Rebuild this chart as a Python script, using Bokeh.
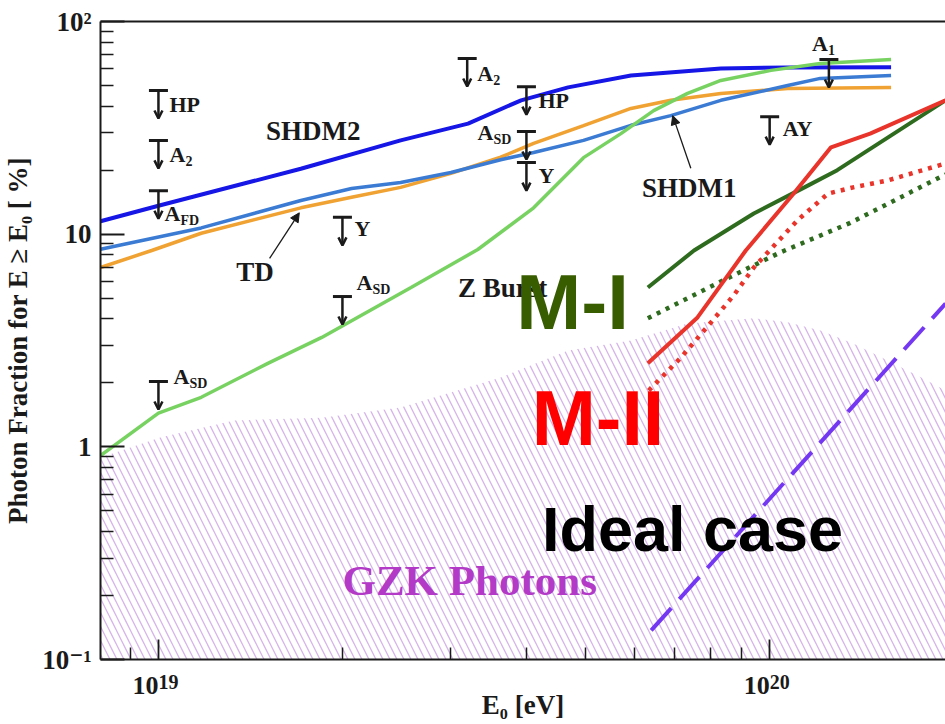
import numpy as np
from bokeh.plotting import figure
from bokeh.models import (Range1d, FixedTicker, CustomJSTickFormatter, LogAxis, LogScale,
                          ColumnDataSource, Arrow, OpenHead, NormalHead)
from bokeh.core.properties import value
from bokeh.embed import file_html
from bokeh.resources import INLINE

# ---------------- data (E0 in eV, photon fraction in %) ----------------
shdm2_E = [8.04e18, 1.0e19, 1.71e19, 2.49e19, 3.21e19, 3.92e19, 4.68e19, 5.93e19, 8.32e19, 1.07e20, 1.58e20]
shdm2_F = [11.5, 13.6, 20.3, 27.6, 33.1, 42.6, 49.0, 55.7, 60.1, 60.8, 61.0]

shdm1_E = [8.04e18, 1.175e19, 1.71e19, 2.07e19, 2.49e19, 3.01e19, 3.63e19, 4.11e19, 4.96e19,
           5.93e19, 6.89e19, 8.32e19, 1.07e20, 1.21e20, 1.58e20]
shdm1_F = [8.5, 10.7, 14.4, 16.4, 17.5, 19.5, 22.4, 24.2, 27.6, 32.5, 36.1, 42.6, 50.0, 54.0, 55.7]

td_E = [8.04e18, 9.75e18, 1.175e19, 1.71e19, 2.07e19, 2.49e19, 3.01e19, 3.63e19, 4.11e19,
        4.96e19, 5.93e19, 6.89e19, 8.32e19, 1.07e20, 1.58e20]
td_F = [6.97, 8.38, 10.1, 13.3, 14.9, 16.6, 19.3, 23.0, 26.7, 32.4, 39.0, 42.6, 45.9, 48.4, 49.0]

zb_E = [8.04e18, 1.0e19, 1.175e19, 1.51e19, 1.85e19, 2.59e19, 3.33e19, 4.11e19, 4.96e19,
        5.71e19, 6.46e19, 7.34e19, 8.32e19, 1.005e20, 1.21e20, 1.58e20]
zb_F = [0.91, 1.44, 1.71, 2.47, 3.27, 5.61, 8.47, 13.3, 22.9, 29.7, 38.1, 45.9, 52.8, 58.9, 63.5, 66.3]

m1_E = [6.32e19, 7.52e19, 9.42e19, 1.14e20, 1.29e20, 1.94e20]
m1_F = [5.61, 8.38, 12.5, 16.6, 20.0, 42.6]

m1d_E = [6.32e19, 8.32e19, 1.04e20, 1.355e20, 1.94e20]
m1d_F = [4.02, 5.99, 8.20, 11.3, 19.1]

m2_E = [6.32e19, 7.62e19, 9.14e19, 1.094e20, 1.26e20, 1.46e20, 1.94e20]
m2_F = [2.47, 4.06, 8.38, 15.5, 25.6, 29.7, 42.6]

m2d_E = [6.34e19, 7.16e19, 8.02e19, 8.73e19, 9.42e19, 1.11e20, 1.245e20, 1.37e20, 1.56e20, 1.94e20]
m2d_F = [1.84, 2.63, 3.85, 5.15, 6.97, 11.6, 15.5, 16.6, 17.9, 21.5]

ideal_E = [6.40e19, 1.0e20, 1.94e20]
ideal_F = [0.137, 0.57, 4.72]

gzk_E = [8.04e18, 1.01e19, 1.33e19, 1.85e19, 2.49e19, 3.63e19, 4.68e19, 5.93e19, 7.34e19,
         9.42e19, 1.07e20, 1.21e20, 1.37e20, 1.56e20, 1.77e20, 1.94e20]
gzk_F = [0.89, 1.11, 1.33, 1.37, 1.53, 2.12, 2.84, 3.16, 3.80, 4.02, 3.85, 3.52, 3.06, 2.55, 2.12, 1.84]

# upper limits
ul_E = [1e19, 1e19, 1e19, 1e19, 2e19, 2e19, 3.2e19, 4e19, 4e19, 4e19, 1e20, 1.25e20]
ul_F = [47.4, 27.6, 16.0, 2.03, 12.0, 5.09, 67.0, 49.4, 30.4, 21.7, 35.7, 66.3]
ul_main = ["HP", "A", "A", "A", "Y", "A", "A", "HP", "A", "Y", "AY", "A"]
ul_sub = ["", "2", "FD", "SD", "", "SD", "2", "", "SD", "", "", "1"]

x_major = [1e19, 1e20]
x_minor = [9e18, 2e19, 3e19, 4e19, 5e19, 6e19, 7e19, 8e19, 9e19, 2e20]
y_major = [0.1, 1, 10, 100]
y_minor = [0.2, 0.3, 0.4, 0.5, 0.6, 0.7, 0.8, 0.9, 2, 3, 4, 5, 6, 7, 8, 9,
           20, 30, 40, 50, 60, 70, 80, 90]

# ---------------- styles ----------------
SERIF = "Liberation Serif"
SERIF_STACK = "Liberation Serif, DejaVu Serif"
SANS = "Liberation Sans"
INK = "#1a1a1a"
ul_dx = [11, 11, 6, 15, 12, 14, 10, 12, -49, 12, 13, -17]
ul_dy = [14, 14, 23, -5, 11, -14, 15, 14, 1, 13, 12, -16]
ARROW_FACTOR = 10 ** (-28 / 212.67)
X0, X1 = 8.039e18, 1.9395e20
PX_PER_DECADE_X = 612.0


def shifted_range(px):
    """x range whose values land px pixels to the right of the main range."""
    f = 10 ** (-px / PX_PER_DECADE_X)
    return Range1d(X0 * f, X1 * f)


p = figure(width=945, height=724, x_axis_type="log", y_axis_type="log",
           x_range=Range1d(X0, X1), y_range=Range1d(0.1, 100),
           output_backend="svg", toolbar_location=None,
           min_border_left=99, min_border_right=0, min_border_top=21, min_border_bottom=65)
p.outline_line_color = None
p.grid.visible = False
p.background_fill_color = "white"
p.border_fill_color = "white"
p.extra_x_ranges = {"base": shifted_range(-13), "exp": shifted_range(10)}
p.extra_x_scales = {"base": LogScale(), "exp": LogScale()}

yfmt = CustomJSTickFormatter(code="""
const sup = {"-":"\u207b","1":"\u00b9","2":"\u00b2","3":"\u00b3"};
const e = Math.round(Math.log10(tick));
if (e == 0) return "1";
if (e == 1) return "10";
return "10" + String(e).split("").map(c => sup[c] ?? c).join("");
""")

for ax, maj, mnr, tin, mtin in [(p.xaxis[0], x_major, x_minor, 20, 12),
                                 (p.yaxis[0], y_major, y_minor, 24, 13)]:
    ax.ticker = FixedTicker(ticks=maj, minor_ticks=mnr)
    ax.major_tick_in = tin
    ax.major_tick_out = 0
    ax.minor_tick_in = mtin
    ax.minor_tick_out = 0
    ax.axis_line_width = 2
    ax.axis_line_color = INK
    ax.major_tick_line_color = INK
    ax.minor_tick_line_color = INK
    ax.major_tick_line_width = 1.8
    ax.minor_tick_line_width = 1.5

# main x axis: ticks only (labels drawn by the two label axes below)
p.xaxis[0].formatter = CustomJSTickFormatter(code="return '';")
p.xaxis[0].major_label_standoff = 0

ya = p.yaxis[0]
ya.formatter = yfmt
ya.major_label_text_font = SERIF_STACK
ya.major_label_text_font_style = "bold"
ya.major_label_text_font_size = "27px"
ya.major_label_text_color = INK
ya.major_label_standoff = 9
ya.axis_label = "Photon Fraction for E \u2265 E\u2080 [ %]"
ya.axis_label_text_font = SERIF
ya.axis_label_text_font_style = "bold"
ya.axis_label_text_font_size = "27px"
ya.axis_label_text_color = INK
ya.axis_label_standoff = 6

# exponent labels (raised, right of tick)
exp_axis = LogAxis(x_range_name="exp", ticker=FixedTicker(ticks=x_major),
                   formatter=CustomJSTickFormatter(code="return String(Math.round(Math.log10(tick)));"),
                   axis_line_color=None, major_tick_in=0, major_tick_out=0,
                   minor_tick_in=0, minor_tick_out=0, major_label_standoff=15,
                   major_label_text_font=SERIF, major_label_text_font_style="bold",
                   major_label_text_font_size="20px", major_label_text_color=INK)
p.add_layout(exp_axis, "below")

# base "10" labels (left of tick) + axis title
base_axis = LogAxis(x_range_name="base", ticker=FixedTicker(ticks=x_major),
                    formatter=CustomJSTickFormatter(code="return '10';"),
                    axis_line_color=None, major_tick_in=0, major_tick_out=0,
                    minor_tick_in=0, minor_tick_out=0, major_label_standoff=-15,
                    major_label_text_font=SERIF, major_label_text_font_style="bold",
                    major_label_text_font_size="26px", major_label_text_color=INK,
                    axis_label="E\u2080 [eV]", axis_label_standoff=-7,
                    axis_label_text_font=SERIF, axis_label_text_font_style="bold",
                    axis_label_text_font_size="27px", axis_label_text_color=INK)
p.add_layout(base_axis, "below")

top = LogAxis(ticker=FixedTicker(ticks=[]), axis_line_width=2, axis_line_color=INK,
              major_tick_in=0, major_tick_out=0, minor_tick_in=0, minor_tick_out=0,
              major_label_standoff=0)
p.add_layout(top, "above")

# GZK photon band (hatched)
p.varea(x=gzk_E, y1=0.1, y2=gzk_F, fill_alpha=0, hatch_pattern="\\",
        hatch_color="#d6b4ea", hatch_weight=1.3, hatch_scale=14)

# model curves
p.line(td_E, td_F, line_color="#f0a232", line_width=3.5)
p.line(shdm1_E, shdm1_F, line_color="#3b7bd4", line_width=3.5)
p.line(shdm2_E, shdm2_F, line_color="#1616e6", line_width=4)
p.line(zb_E, zb_F, line_color="#78d262", line_width=3.5)

p.line(m1_E, m1_F, line_color="#2e6b1f", line_width=4)
p.line(m1d_E, m1d_F, line_color="#2e6b1f", line_width=4.5, line_dash="4 6")
p.line(m2_E, m2_F, line_color="#e8342a", line_width=4)
p.line(m2d_E, m2d_F, line_color="#e8342a", line_width=4.5, line_dash="4 6")
p.line(ideal_E, ideal_F, line_color="#7538f2", line_width=4, line_dash="30 12")

# upper limits
ul_src = ColumnDataSource(dict(x=ul_E, y=ul_F, ye=list(np.array(ul_F) * ARROW_FACTOR),
                               t=ul_main, s=ul_sub, dx=ul_dx, dy=ul_dy,
                               sdx=list(np.array(ul_dx) + 16), sdy=list(np.array(ul_dy) + 7)))
p.scatter(x="x", y="y", marker="dash", size=19, line_width=3, line_color=INK, source=ul_src)
p.add_layout(Arrow(x_start="x", y_start="y", x_end="x", y_end="ye", source=ul_src,
                   line_width=2.5, line_color=INK,
                   end=OpenHead(size=8, line_width=2.5, line_color=INK)))
p.text(x="x", y="y", text="t", x_offset="dx", y_offset="dy", source=ul_src,
       text_font=value(SERIF), text_font_style="bold", text_font_size="22px",
       text_color=INK, text_baseline="middle", text_align="left")
p.text(x="x", y="y", text="s", x_offset="sdx", y_offset="sdy", source=ul_src,
       text_font=value(SERIF), text_font_style="bold", text_font_size="14px",
       text_color=INK, text_baseline="middle", text_align="left")

# pointer arrows
p.add_layout(Arrow(x_start=1.52e19, y_start=7.69, x_end=1.70e19, y_end=12.6,
                   line_width=1.3, line_color=INK,
                   end=NormalHead(size=9, fill_color=INK, line_color=INK)))
p.add_layout(Arrow(x_start=7.43e19, y_start=20.4, x_end=6.94e19, y_end=36.1,
                   line_width=1.3, line_color=INK,
                   end=NormalHead(size=9, fill_color=INK, line_color=INK)))

# curve labels
lab = ColumnDataSource(dict(
    x=[1.50e19, 6.18e19, 1.34e19, 3.09e19],
    y=[30.4, 16.4, 6.61, 5.61],
    t=["SHDM2", "SHDM1", "TD", "Z Burst"]))
p.text(x="x", y="y", text="t", source=lab, text_font=value(SERIF), text_font_style="bold",
       text_font_size="27px", text_color=INK, text_baseline="middle", text_align="left")

p.text(x=[2.0e19], y=[0.2355], text=["GZK Photons"], text_font=value(SERIF),
       text_font_style="bold", text_font_size="43px", text_color="#b23ac6",
       text_baseline="middle", text_align="left")

# slide overlay labels
p.text(x=[3.85e19], y=[4.82], text=["M-I"], text_font=value(SANS), text_font_style="bold",
       text_font_size="78px", text_color="#385d00", text_baseline="middle", text_align="left")
p.text(x=[4.08e19], y=[1.36], text=["M-II"], text_font=value(SANS), text_font_style="bold",
       text_font_size="77px", text_color="#ff0000", text_baseline="middle", text_align="left")
p.text(x=[4.24e19], y=[0.413], text=["Ideal case"], text_font=value(SANS), text_font_style="bold",
       text_font_size="63px", text_color="#000000", text_baseline="middle", text_align="left")

open("out.html", "w").write(file_html(p, INLINE))
